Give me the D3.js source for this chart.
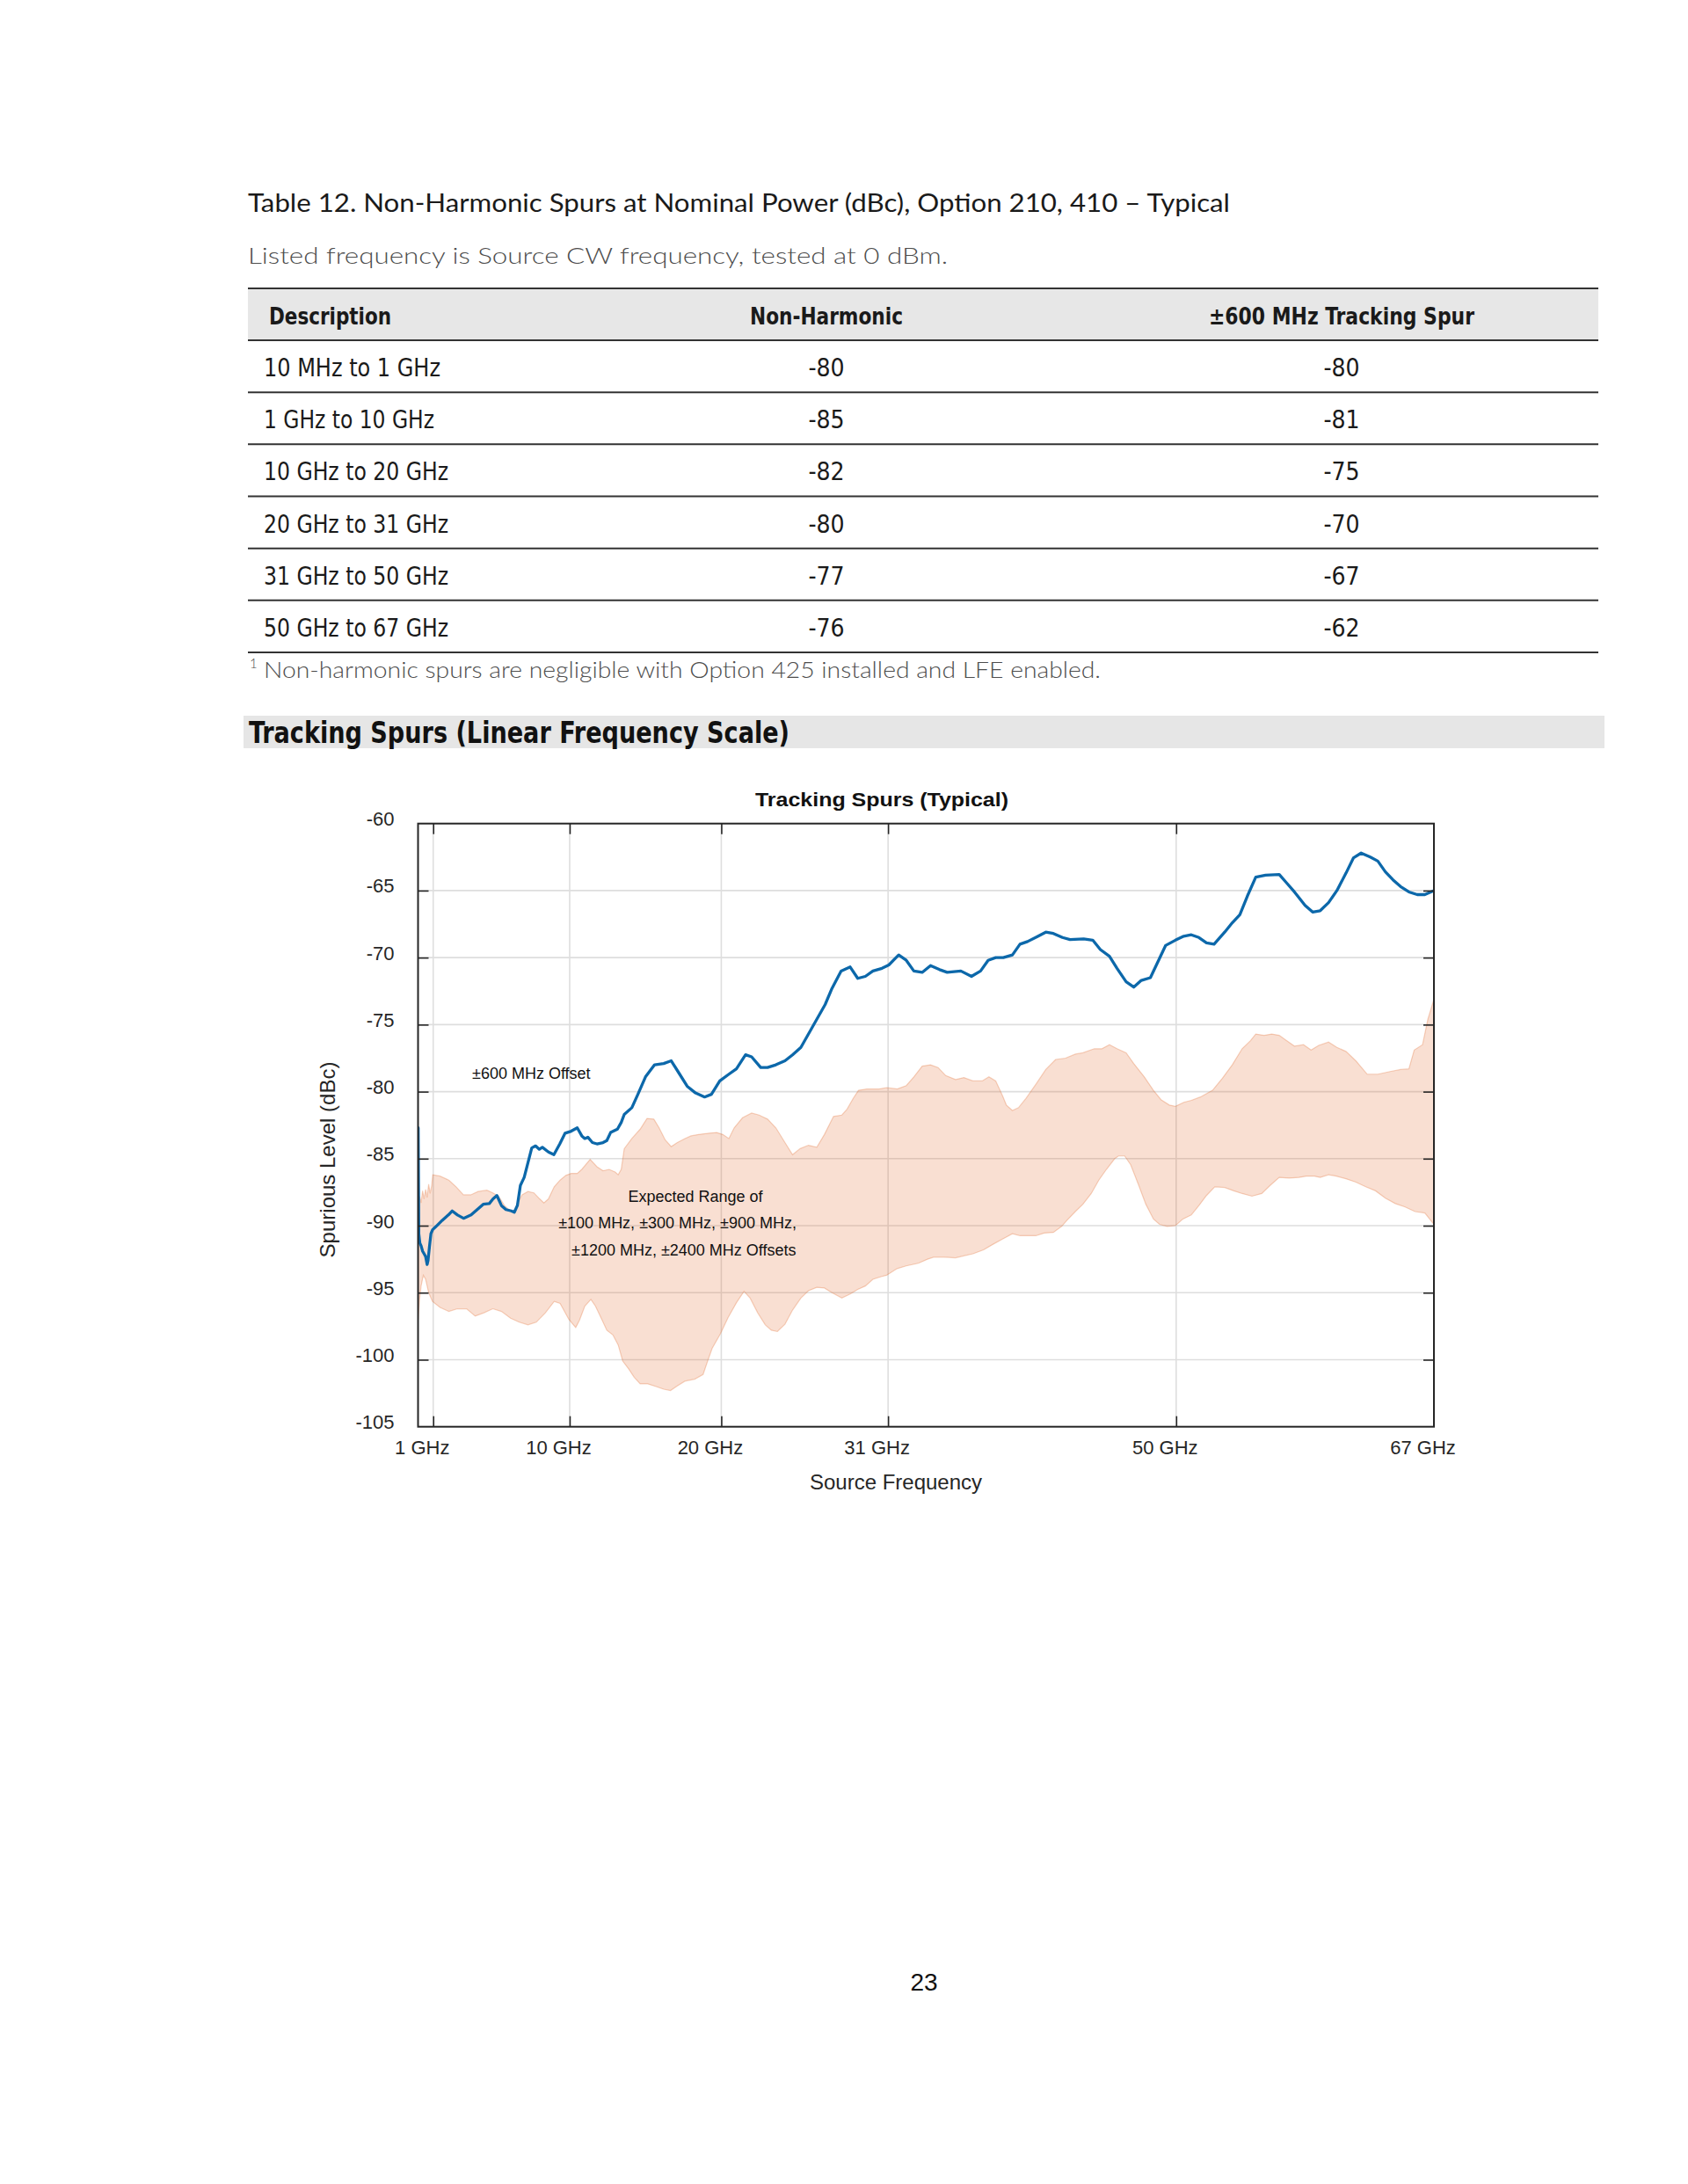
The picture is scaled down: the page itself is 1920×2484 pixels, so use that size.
<!DOCTYPE html>
<html>
<head>
<meta charset="utf-8">
<script src="https://cdn.jsdelivr.net/npm/d3@7"></script>
<style>
html,body{margin:0;padding:0;background:#fff;}
svg{display:block;}
</style>
</head>
<body>
<script>
// ---------------- DATA ----------------
const tableTitle = "Table 12. Non-Harmonic Spurs at Nominal Power (dBc), Option 210, 410 \u2013 Typical";
const tableSubtitle = "Listed frequency is Source CW frequency, tested at 0 dBm.";
const tableHeaders = ["Description", "Non-Harmonic", "\u00B1600 MHz Tracking Spur"];
const tableRanges = ["10 MHz to 1 GHz", "1 GHz to 10 GHz", "10 GHz to 20 GHz", "20 GHz to 31 GHz", "31 GHz to 50 GHz", "50 GHz to 67 GHz"];
const nonHarmonic = [-80, -85, -82, -80, -77, -76];
const trackingSpur = [-80, -81, -75, -70, -67, -62];
const footnote = "Non-harmonic spurs are negligible with Option 425 installed and LFE enabled.";
const sectionHeading = "Tracking Spurs (Linear Frequency Scale)";

const chartTitle = "Tracking Spurs (Typical)";
const xTickValues = [1, 10, 20, 31, 50, 67];
const xTickLabels = ["1 GHz", "10 GHz", "20 GHz", "31 GHz", "50 GHz", "67 GHz"];
const yTickValues = [-105, -100, -95, -90, -85, -80, -75, -70, -65, -60];
const xLabel = "Source Frequency";
const yLabel = "Spurious Level (dBc)";

// +/-600 MHz offset tracking spur (GHz, dBc)
const lineFreq = [0.01,0.05,0.12,0.2,0.3,0.4,0.5,0.6,0.66,0.75,0.85,0.96,1.15,1.6,2.0,2.25,2.6,3.0,3.5,4.0,4.3,4.7,4.95,5.2,5.5,5.8,6.15,6.35,6.55,6.75,7.0,7.25,7.5,7.75,8.0,8.2,8.6,8.96,9.35,9.7,10.1,10.5,10.8,11.0,11.2,11.5,11.8,12.2,12.45,12.7,13.15,13.4,13.6,14.1,14.5,15.0,15.6,16.2,16.7,17.2,17.75,18.3,18.9,19.35,19.9,20.5,21.0,21.6,22.0,22.6,23.05,23.6,24.2,24.7,25.25,25.8,26.3,26.85,27.3,27.9,28.5,29.0,29.5,30.0,30.6,31.05,31.7,32.2,32.7,33.25,33.8,34.4,34.9,35.8,36.5,37.1,37.6,38.1,38.6,39.2,39.7,40.2,40.9,41.4,41.9,42.5,43.0,43.9,44.5,45.0,45.6,46.1,46.7,47.2,47.7,48.3,48.8,49.3,49.95,50.5,51.0,51.5,52.0,52.5,53.2,53.7,54.2,54.7,55.25,55.9,56.8,57.3,57.8,58.5,59.0,59.5,60.05,60.6,61.2,61.7,62.2,62.8,63.3,63.8,64.3,64.8,65.35,65.9,66.4,67.0];
const lineLevel = [-82.7,-90.6,-91.3,-91.5,-91.9,-92.1,-92.3,-92.9,-92.6,-91.6,-90.6,-90.3,-90.1,-89.6,-89.2,-88.9,-89.2,-89.45,-89.2,-88.7,-88.4,-88.35,-88.0,-87.75,-88.5,-88.8,-88.9,-89.0,-88.5,-87.0,-86.4,-85.3,-84.2,-84.05,-84.3,-84.15,-84.5,-84.7,-83.9,-83.1,-82.95,-82.7,-83.3,-83.5,-83.4,-83.8,-83.9,-83.8,-83.65,-83.05,-82.8,-82.3,-81.7,-81.2,-80.2,-78.9,-78.0,-77.9,-77.7,-78.6,-79.6,-80.1,-80.4,-80.2,-79.2,-78.7,-78.3,-77.25,-77.4,-78.2,-78.2,-78.0,-77.7,-77.25,-76.7,-75.6,-74.6,-73.5,-72.3,-71.0,-70.7,-71.55,-71.4,-71.0,-70.8,-70.55,-69.8,-70.2,-71.0,-71.1,-70.6,-70.9,-71.1,-71.0,-71.4,-71.0,-70.2,-70.0,-70.0,-69.8,-69.0,-68.8,-68.4,-68.1,-68.2,-68.5,-68.65,-68.6,-68.7,-69.4,-69.9,-70.8,-71.8,-72.2,-71.7,-71.5,-70.3,-69.1,-68.7,-68.4,-68.3,-68.5,-68.9,-69.0,-68.1,-67.4,-66.8,-65.4,-64.0,-63.85,-63.8,-64.45,-65.1,-66.1,-66.6,-66.5,-65.9,-65.0,-63.7,-62.55,-62.2,-62.5,-62.8,-63.6,-64.2,-64.7,-65.1,-65.3,-65.3,-65.0];

// Expected range, upper edge (GHz, dBc)
const upperFreq = [0.01,0.1,0.2,0.3,0.4,0.5,0.6,0.7,0.8,0.9,0.97,1.45,2.03,2.51,2.99,3.48,3.96,4.54,4.93,5.31,5.7,6.09,6.3,6.57,6.86,7.25,7.64,8.02,8.3,8.6,8.98,9.37,9.75,10.1,10.5,10.8,11.35,11.8,12.2,12.6,13.0,13.2,13.4,13.6,14.1,14.65,15.1,15.55,15.9,16.3,16.7,17.1,17.6,18.0,18.5,19.2,19.7,20.1,20.5,20.85,21.4,22.0,22.5,23.05,23.6,24.2,24.7,25.2,25.75,26.3,26.8,27.4,27.95,28.3,28.7,29.05,29.6,30.4,30.9,31.6,32.2,32.7,33.25,33.8,34.3,34.8,35.45,36.0,36.6,37.2,37.65,38.1,38.55,38.8,39.2,39.6,40.1,40.75,41.4,42.05,42.7,43.35,43.85,44.6,45.1,45.6,46.1,46.7,47.2,47.9,48.5,49.0,49.55,49.95,50.5,51.0,51.6,52.4,53.05,53.7,54.35,54.9,55.25,55.8,56.3,56.8,57.3,57.8,58.4,58.9,59.4,60.05,60.6,61.2,61.85,62.6,63.3,64.1,64.8,65.35,65.7,66.25,66.6,67.0];
const upperLevel = [-88.8,-87.8,-88.3,-87.4,-88.0,-87.3,-87.9,-86.9,-87.6,-87.0,-86.2,-86.3,-86.6,-87.1,-87.7,-87.7,-87.45,-87.35,-87.55,-87.8,-88.5,-88.9,-89.0,-88.3,-87.7,-87.45,-87.55,-88.0,-88.3,-88.0,-87.1,-86.6,-86.25,-86.1,-86.1,-85.8,-85.05,-85.6,-85.9,-85.8,-86.0,-86.2,-85.8,-84.25,-83.5,-82.8,-82.0,-82.05,-82.7,-83.6,-84.1,-83.8,-83.5,-83.3,-83.2,-83.1,-83.05,-83.2,-83.5,-82.7,-81.95,-81.6,-81.75,-82.05,-82.7,-83.8,-84.7,-84.25,-84.0,-84.15,-83.2,-81.85,-81.75,-81.3,-80.5,-79.9,-79.8,-79.8,-79.7,-79.8,-79.55,-78.9,-78.1,-78.0,-78.2,-78.8,-79.1,-78.95,-79.2,-79.2,-78.9,-79.2,-80.3,-81.0,-81.4,-81.2,-80.5,-79.45,-78.35,-77.6,-77.5,-77.2,-77.1,-76.8,-76.8,-76.5,-76.8,-77.1,-77.9,-78.9,-79.9,-80.6,-81.0,-81.1,-80.8,-80.65,-80.4,-79.9,-79.0,-78.0,-76.8,-76.2,-75.7,-75.8,-75.7,-75.8,-76.2,-76.6,-76.5,-76.9,-76.55,-76.3,-76.7,-77.0,-77.7,-78.7,-78.7,-78.5,-78.35,-78.3,-76.9,-76.5,-74.6,-73.1];

// Expected range, lower edge (GHz, dBc)
const lowerFreq = [0.01,0.1,0.2,0.35,0.5,0.7,0.95,1.45,2.03,2.6,3.2,3.77,4.35,4.93,5.5,6.1,6.67,7.25,7.8,8.4,8.98,9.37,9.95,10.4,10.65,11.0,11.4,11.7,12.1,12.45,12.85,13.2,13.5,13.9,14.25,14.65,15.15,15.7,16.2,16.65,17.1,17.6,18.25,18.8,19.1,19.4,19.95,20.45,21.0,21.5,21.9,22.4,22.9,23.3,23.7,24.2,24.7,25.25,25.75,26.3,26.8,27.3,27.95,28.5,29.0,29.5,30.0,30.55,30.9,31.6,32.2,33.0,33.6,34.0,34.7,35.45,36.0,36.6,37.3,37.9,38.55,39.2,39.7,40.4,40.75,41.3,41.9,42.45,42.8,43.35,43.85,44.4,44.9,45.4,45.95,46.2,46.6,47.0,47.5,48.0,48.5,48.9,49.4,49.95,50.45,51.0,51.5,52.0,52.55,53.2,53.8,54.35,55.0,55.65,56.2,56.8,57.45,58.1,58.6,59.1,59.5,60.05,60.55,61.2,61.85,62.5,63.15,63.8,64.45,65.1,65.75,66.4,67.0];
const lowerLevel = [-97.0,-95.5,-94.5,-93.7,-94.0,-95.0,-95.65,-96.1,-96.4,-96.2,-96.2,-96.75,-96.5,-96.2,-96.4,-96.9,-97.2,-97.4,-97.2,-96.5,-95.65,-95.8,-97.0,-97.6,-97.05,-96.0,-95.5,-96.0,-96.95,-97.8,-98.15,-98.9,-100.1,-100.7,-101.3,-101.8,-101.8,-102.0,-102.2,-102.3,-101.95,-101.6,-101.45,-101.1,-100.1,-99.15,-98.05,-96.85,-95.75,-94.9,-95.4,-96.5,-97.4,-97.8,-97.9,-97.35,-96.3,-95.4,-94.85,-94.6,-94.65,-95.0,-95.4,-95.1,-94.75,-94.5,-94.0,-93.8,-93.7,-93.2,-93.0,-92.8,-92.5,-92.35,-92.35,-92.4,-92.25,-92.1,-91.8,-91.4,-91.0,-90.6,-90.75,-90.75,-90.75,-90.55,-90.5,-90.05,-89.6,-88.95,-88.4,-87.6,-86.6,-85.8,-85.0,-84.8,-84.8,-85.45,-86.9,-88.4,-89.5,-89.9,-90.05,-90.0,-89.5,-89.2,-88.5,-87.75,-87.1,-87.15,-87.4,-87.6,-87.8,-87.6,-87.0,-86.4,-86.45,-86.4,-86.3,-86.3,-86.4,-86.2,-86.3,-86.5,-86.75,-87.1,-87.4,-87.95,-88.35,-88.6,-88.95,-89.05,-89.9];

const lineAnnotation = "\u00B1600 MHz Offset";
const bandAnnotation = ["Expected Range of", "\u00B1100 MHz, \u00B1300 MHz, \u00B1900 MHz,", "\u00B11200 MHz, \u00B12400 MHz Offsets"];
const pageNumber = "23";

// ---------------- DRAWING ----------------
const W = 1920, H = 2484;
const svg = d3.select("body").append("svg").attr("width", W).attr("height", H);
svg.append("rect").attr("width", W).attr("height", H).attr("fill", "#fff");

const docFont = "Lato, 'Open Sans', 'Liberation Sans', sans-serif";
const narrowFont = "'Liberation Sans Narrow', 'DejaVu Sans Condensed', Roboto, 'Liberation Sans', sans-serif";
const chartFont = "'Liberation Sans', Arial, Helvetica, sans-serif";

function txt(g, x, y, s, o) {
  o = o || {};
  const t = g.append("text").attr("x", x).attr("y", y).text(s)
    .attr("font-family", o.family || docFont)
    .attr("font-size", o.size || 24)
    .attr("font-weight", o.weight || "normal")
    .attr("fill", o.fill || "#1a1a1a")
    .attr("text-anchor", o.anchor || "start");
  if (o.len) t.attr("textLength", o.len).attr("lengthAdjust", "spacingAndGlyphs");
  return t;
}

// ---- Table ----
const page = svg.append("g");
txt(page, 282, 241, tableTitle, {size: 28, len: 1117, fill: "#1a1a1a"});
txt(page, 282, 300, tableSubtitle, {size: 25, weight: 300, len: 796, fill: "#4d4d4d"});

const tX0 = 282, tX1 = 1818;
const colCenters = [null, 940, 1526];
page.append("rect").attr("x", tX0).attr("y", 328).attr("width", tX1 - tX0).attr("height", 59).attr("fill", "#e7e7e7");
const headerLens = [139, 174, 302];
txt(page, 306, 369, tableHeaders[0], {family: narrowFont, size: 27, weight: "bold", len: headerLens[0]});
txt(page, colCenters[1], 369, tableHeaders[1], {family: narrowFont, size: 27, weight: "bold", anchor: "middle", len: headerLens[1]});
txt(page, colCenters[2], 369, tableHeaders[2], {family: narrowFont, size: 27, weight: "bold", anchor: "middle", len: headerLens[2]});

const rowTop = 387, rowH = 59.17;
const rangeLens = [201, 194, 210, 210, 210, 210];
page.append("line").attr("x1", tX0).attr("x2", tX1).attr("y1", 328).attr("y2", 328).attr("stroke", "#333").attr("stroke-width", 2);
tableRanges.forEach((r, i) => {
  const yTop = rowTop + i * rowH;
  page.append("line").attr("x1", tX0).attr("x2", tX1).attr("y1", yTop).attr("y2", yTop).attr("stroke", "#333").attr("stroke-width", 2);
  const base = yTop + 41;
  txt(page, 300, base, r, {family: narrowFont, size: 28, len: rangeLens[i]});
  txt(page, colCenters[1], base, String(nonHarmonic[i]), {family: narrowFont, size: 28, anchor: "middle"});
  txt(page, colCenters[2], base, String(trackingSpur[i]), {family: narrowFont, size: 28, anchor: "middle"});
});
const tBottom = rowTop + tableRanges.length * rowH;
page.append("line").attr("x1", tX0).attr("x2", tX1).attr("y1", tBottom).attr("y2", tBottom).attr("stroke", "#333").attr("stroke-width", 2);

txt(page, 284, 760, "1", {size: 15, weight: 300, fill: "#4d4d4d"});
txt(page, 300, 771, footnote, {size: 25, weight: 300, len: 952, fill: "#4d4d4d"});

// ---- Section heading ----
page.append("rect").attr("x", 277).attr("y", 814).attr("width", 1548).attr("height", 37).attr("fill", "#e6e6e6");
txt(page, 283, 845, sectionHeading, {family: narrowFont, size: 33, weight: "bold", len: 615, fill: "#111"});

// ---- Chart ----
const px0 = 475.5, px1 = 1631, py0 = 936.7, py1 = 1622.7;
const x = d3.scaleLinear().domain([0, 67]).range([px0, px1]);
const y = d3.scaleLinear().domain([-105, -60]).range([py1, py0]);
const chart = svg.append("g");

svg.append("defs").append("clipPath").attr("id", "plotclip")
  .append("rect").attr("x", px0).attr("y", py0).attr("width", px1 - px0).attr("height", py1 - py0);

// grid
const grid = chart.append("g").attr("stroke", "#dedede").attr("stroke-width", 1.6);
xTickValues.filter(v => v < 67).forEach(v => {
  grid.append("line").attr("x1", x(v)).attr("x2", x(v)).attr("y1", py0).attr("y2", py1);
});
yTickValues.filter(v => v > -105 && v < -60).forEach(v => {
  grid.append("line").attr("x1", px0).attr("x2", px1).attr("y1", y(v)).attr("y2", y(v));
});

// band
const upperPts = upperFreq.map((f, i) => [f, upperLevel[i]]);
const lowerPts = lowerFreq.map((f, i) => [f, lowerLevel[i]]).reverse();
const bandLine = d3.line().x(d => x(d[0])).y(d => y(d[1]));
chart.append("path").attr("clip-path", "url(#plotclip)")
  .attr("d", bandLine(upperPts.concat(lowerPts)) + "Z")
  .attr("fill", "#e0611f").attr("fill-opacity", 0.2)
  .attr("stroke", "#e0611f").attr("stroke-opacity", 0.28).attr("stroke-width", 1.2);

// tracking spur line
const linePts = lineFreq.map((f, i) => [f, lineLevel[i]]);
chart.append("path").attr("clip-path", "url(#plotclip)")
  .attr("d", d3.line().x(d => x(d[0])).y(d => y(d[1]))(linePts))
  .attr("fill", "none").attr("stroke", "#0c68aa").attr("stroke-width", 3.3)
  .attr("stroke-linejoin", "round").attr("stroke-linecap", "round");

// axes (ticks inward)
const axisColor = "#262626";
function styleAxis(g) {
  g.select(".domain").remove();
  g.selectAll(".tick line").attr("stroke", axisColor).attr("stroke-width", 1.6);
  g.selectAll(".tick text").attr("font-family", chartFont).attr("font-size", 22).attr("fill", "#262626");
}
const xb = chart.append("g").attr("transform", `translate(0,${py1})`)
  .call(d3.axisBottom(x).tickValues(xTickValues).tickSize(-12).tickPadding(16)
    .tickFormat((d, i) => xTickLabels[i]));
styleAxis(xb);
xb.selectAll(".tick text").attr("dx", -13);
xb.selectAll(".tick").filter(d => d === 67).select("line").remove();

const xt = chart.append("g").attr("transform", `translate(0,${py0})`)
  .call(d3.axisTop(x).tickValues(xTickValues.filter(v => v < 67)).tickSize(-12).tickFormat(""));
styleAxis(xt);

const yl = chart.append("g").attr("transform", `translate(${px0},0)`)
  .call(d3.axisLeft(y).tickValues(yTickValues).tickSize(-12).tickPadding(27).tickFormat(d => String(d)));
styleAxis(yl);
yl.selectAll(".tick text").attr("y", -5);
yl.selectAll(".tick").filter(d => d === -105 || d === -60).select("line").remove();

const yr = chart.append("g").attr("transform", `translate(${px1},0)`)
  .call(d3.axisRight(y).tickValues(yTickValues.filter(v => v > -105 && v < -60)).tickSize(-12).tickFormat(""));
styleAxis(yr);

// frame
chart.append("rect").attr("x", px0).attr("y", py0).attr("width", px1 - px0).attr("height", py1 - py0)
  .attr("fill", "none").attr("stroke", axisColor).attr("stroke-width", 2);

// titles and labels
txt(chart, 1003, 917, chartTitle, {family: chartFont, size: 22, weight: "bold", anchor: "middle", len: 288, fill: "#111"});
txt(chart, 1019, 1694, xLabel, {family: chartFont, size: 24, anchor: "middle", fill: "#262626"});
txt(chart, 0, 0, yLabel, {family: chartFont, size: 24, anchor: "middle", fill: "#262626"})
  .attr("transform", "translate(381,1319) rotate(-90)");

txt(chart, 537, 1227, lineAnnotation, {family: chartFont, size: 18, fill: "#111"});
const annoCenters = [791, 770.6, 777.8];
const annoBase = [1367, 1397, 1428];
bandAnnotation.forEach((s, i) => {
  txt(chart, annoCenters[i], annoBase[i], s, {family: chartFont, size: 18, anchor: "middle", fill: "#111"});
});

// page number
txt(page, 1051, 2264, pageNumber, {family: chartFont, size: 28, anchor: "middle", fill: "#111"});
</script>
</body>
</html>
